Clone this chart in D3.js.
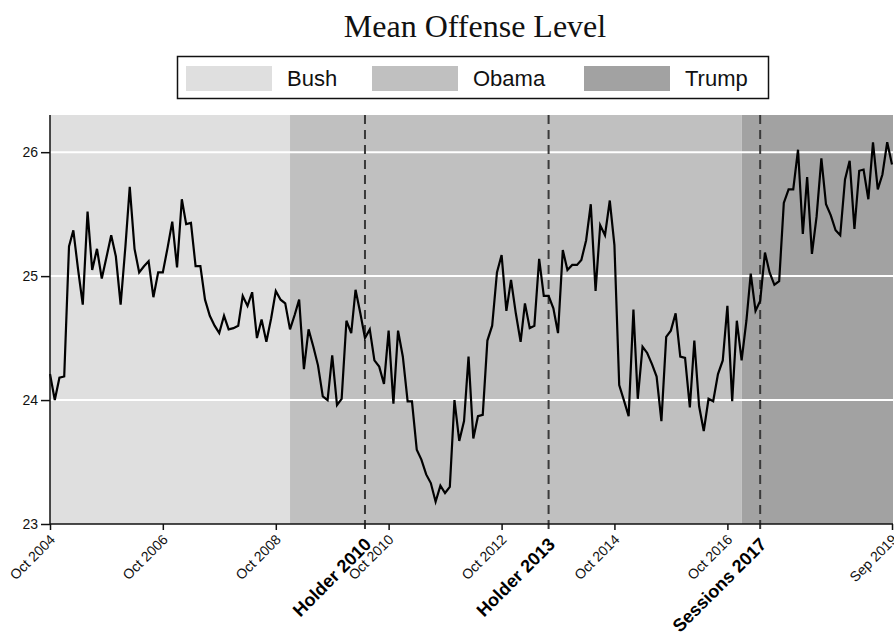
<!DOCTYPE html>
<html>
<head>
<meta charset="utf-8">
<script src="https://cdn.jsdelivr.net/npm/d3@7"></script>
<style>
  html, body { margin: 0; padding: 0; background: #ffffff; }
  svg { display: block; }
  .sans { font-family: "Liberation Sans", Arial, Helvetica, sans-serif; }
</style>
</head>
<body>
<svg id="chart" width="894" height="634"></svg>
<script>
// Monthly mean offense level, Oct 2004 through Sep 2019
const startMonth = "2004-10";
const endMonth = "2019-09";
const offenseLevel = [
  24.21, 24.00, 24.18, 24.19, 25.24, 25.37, 25.05, 24.77, 25.52, 25.05,
  25.22, 24.98, 25.15, 25.33, 25.16, 24.77, 25.24, 25.72, 25.22, 25.03,
  25.08, 25.12, 24.83, 25.03, 25.03, 25.23, 25.44, 25.07, 25.62, 25.42,
  25.43, 25.08, 25.08, 24.81, 24.68, 24.60, 24.54, 24.68, 24.57, 24.58,
  24.60, 24.84, 24.76, 24.87, 24.50, 24.65, 24.47, 24.66, 24.88, 24.81,
  24.78, 24.57, 24.69, 24.81, 24.25, 24.57, 24.43, 24.28, 24.03, 24.00,
  24.36, 23.96, 24.01, 24.64, 24.54, 24.89, 24.70, 24.50, 24.57, 24.32,
  24.27, 24.13, 24.56, 23.97, 24.56, 24.35, 23.99, 23.99, 23.60, 23.52,
  23.40, 23.33, 23.18, 23.31, 23.25, 23.30, 24.00, 23.67, 23.83, 24.35,
  23.69, 23.87, 23.88, 24.48, 24.60, 25.03, 25.17, 24.72, 24.97, 24.70,
  24.47, 24.78, 24.58, 24.60, 25.14, 24.84, 24.84, 24.74, 24.54, 25.21,
  25.05, 25.09, 25.09, 25.13, 25.29, 25.58, 24.88, 25.41, 25.33, 25.61,
  25.25, 24.12, 24.00, 23.87, 24.73, 24.01, 24.43, 24.38, 24.29, 24.19,
  23.83, 24.51, 24.56, 24.70, 24.35, 24.34, 23.94, 24.48, 23.95, 23.75,
  24.01, 23.99, 24.21, 24.32, 24.76, 23.99, 24.64, 24.32, 24.64, 25.02,
  24.72, 24.80, 25.19, 25.03, 24.93, 24.96, 25.59, 25.70, 25.70, 26.02,
  25.34, 25.80, 25.18, 25.48, 25.95, 25.58, 25.49, 25.37, 25.33, 25.78,
  25.93, 25.38, 25.85, 25.86, 25.62, 26.08, 25.70, 25.82, 26.08, 25.90
];

// Presidential administrations shown as background bands
const eraNames = ["Bush", "Obama", "Trump"];
const eraStarts = ["2004-10", "2009-01", "2017-01"];
const eraEnds = ["2009-01", "2017-01", "2019-09"];
const eraColors = ["#dfdfdf", "#c0c0c0", "#a2a2a2"];

// Attorney General policy memos
const memoLabels = ["Holder 2010", "Holder 2013", "Sessions 2017"];
const memoMonths = ["2010-05", "2013-08", "2017-05"];

// Axis ticks
const yTicks = [23, 24, 25, 26];
const xTickMonths = ["2004-10", "2006-10", "2008-10", "2010-10", "2012-10", "2014-10", "2016-10", "2019-09"];

const parseMonth = d3.timeParse("%Y-%m");
const months = d3.timeMonth.range(parseMonth(startMonth), d3.timeMonth.offset(parseMonth(endMonth), 1));
const series = months.map((m, i) => ({ date: m, value: offenseLevel[i] }));

const svg = d3.select("#chart");
const plot = { left: 50, right: 892, top: 115, bottom: 524 };

const x = d3.scaleTime()
  .domain([parseMonth(startMonth), parseMonth(endMonth)])
  .range([plot.left, plot.right]);
const y = d3.scaleLinear()
  .domain([23, 26.3])
  .range([plot.bottom, plot.top]);

// Title
svg.append("text")
  .attr("x", 475).attr("y", 37)
  .attr("text-anchor", "middle")
  .style("font-family", "'Liberation Serif', 'Times New Roman', serif")
  .style("font-size", "32px")
  .attr("fill", "#111")
  .text("Mean Offense Level");

// Legend
const legend = svg.append("g").attr("class", "sans");
legend.append("rect")
  .attr("x", 177.5).attr("y", 56.5).attr("width", 591).attr("height", 42)
  .attr("fill", "#fff").attr("stroke", "#111").attr("stroke-width", 1.5);
const legendX = [186, 372, 584];
eraNames.forEach((name, i) => {
  legend.append("rect")
    .attr("x", legendX[i]).attr("y", 66).attr("width", 86).attr("height", 25)
    .attr("fill", eraColors[i]);
  legend.append("text")
    .attr("x", legendX[i] + 101).attr("y", 86)
    .style("font-size", "22px").attr("fill", "#111")
    .text(name);
});

// Background bands
eraNames.forEach((name, i) => {
  const x0 = x(parseMonth(eraStarts[i]));
  const x1 = i === eraNames.length - 1 ? plot.right + 1 : x(parseMonth(eraEnds[i]));
  svg.append("rect")
    .attr("x", x0).attr("y", plot.top)
    .attr("width", x1 - x0).attr("height", plot.bottom - plot.top)
    .attr("fill", eraColors[i]);
});

// Horizontal gridlines
svg.append("g")
  .selectAll("line")
  .data(yTicks.filter(t => t > 23))
  .join("line")
  .attr("x1", plot.left).attr("x2", plot.right + 1)
  .attr("y1", d => y(d)).attr("y2", d => y(d))
  .attr("stroke", "#ffffff").attr("stroke-width", 2);

// Memo dates as dashed verticals
svg.append("g")
  .selectAll("line")
  .data(memoMonths)
  .join("line")
  .attr("x1", d => x(parseMonth(d))).attr("x2", d => x(parseMonth(d)))
  .attr("y1", plot.top).attr("y2", plot.bottom + 9)
  .attr("stroke", "#3a3a3a").attr("stroke-width", 2)
  .attr("stroke-dasharray", "9,6");

// Series line
svg.append("path")
  .datum(series)
  .attr("fill", "none")
  .attr("stroke", "#000")
  .attr("stroke-width", 2.2)
  .attr("stroke-linejoin", "miter")
  .attr("d", d3.line().x(d => x(d.date)).y(d => y(d.value)));

// Y axis
const yAxis = svg.append("g")
  .attr("class", "sans")
  .attr("transform", `translate(${plot.left},0)`)
  .call(d3.axisLeft(y).tickValues(yTicks).tickSize(9).tickPadding(3).tickFormat(d3.format("d")));
yAxis.select(".domain").attr("d", `M0,${plot.top}V${plot.bottom}`).attr("stroke", "#111").attr("stroke-width", 1.5);
yAxis.selectAll(".tick line").attr("stroke", "#111").attr("stroke-width", 1.5);
yAxis.selectAll(".tick text").style("font-size", "14px").attr("fill", "#111");

// X axis
const xAxis = svg.append("g")
  .attr("class", "sans")
  .attr("transform", `translate(0,${plot.bottom})`)
  .call(d3.axisBottom(x)
    .tickValues(xTickMonths.map(parseMonth))
    .tickSize(6)
    .tickFormat(d3.timeFormat("%b %Y")));
xAxis.select(".domain").attr("d", `M${plot.left},0H${plot.right + 1}`).attr("stroke", "#111").attr("stroke-width", 1.5);
xAxis.selectAll(".tick line").attr("stroke", "#111").attr("stroke-width", 1.5);
xAxis.selectAll(".tick text")
  .style("font-size", "14px")
  .attr("fill", "#111")
  .attr("text-anchor", "end")
  .attr("x", 0).attr("y", 0).attr("dy", "0.35em")
  .attr("transform", "translate(2,13) rotate(-45)");

// Memo labels beneath the axis
svg.append("g")
  .attr("class", "sans")
  .selectAll("text")
  .data(memoMonths)
  .join("text")
  .attr("transform", d => `translate(${x(parseMonth(d)) + 3},${plot.bottom + 17}) rotate(-45)`)
  .attr("text-anchor", "end")
  .attr("dy", "0.35em")
  .style("font-size", "18px")
  .style("font-weight", "bold")
  .attr("fill", "#000")
  .text((d, i) => memoLabels[i]);
</script>
</body>
</html>
